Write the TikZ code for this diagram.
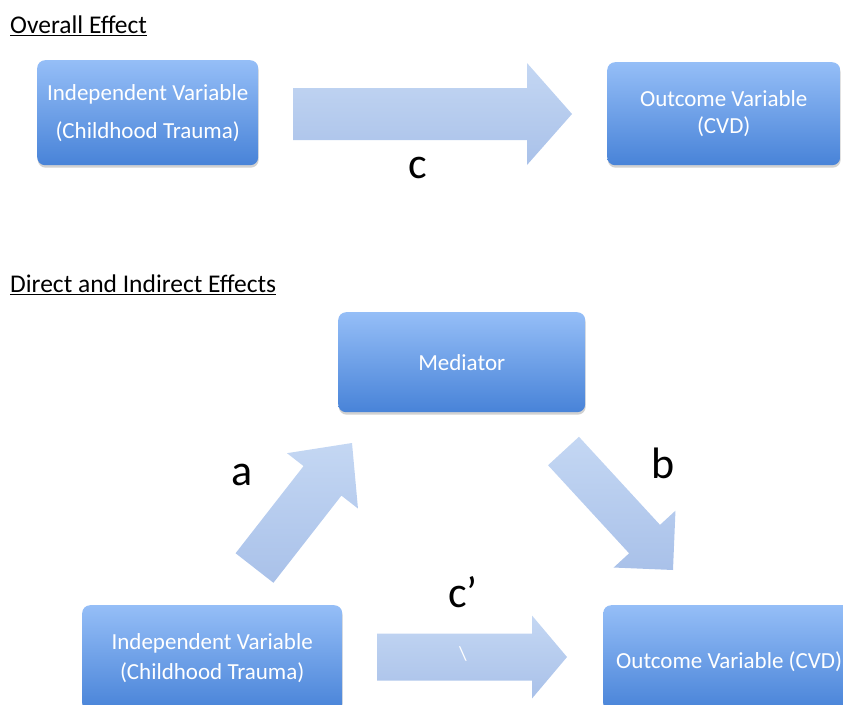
\documentclass[tikz,border=0pt]{standalone}
\usepackage{fontspec}
\setmainfont{Carlito}
\usetikzlibrary{calc,shadows}

\definecolor{boxtop}{HTML}{95BEF7}
\definecolor{boxbot}{HTML}{4883D8}
\definecolor{arrtop}{HTML}{C4D7F3}
\definecolor{arrbot}{HTML}{A9C1E9}

\tikzset{
  varbox/.style={rounded corners=8pt, top color=boxtop, bottom color=boxbot,
    draw=none, text=white, align=center, anchor=north west, inner sep=0pt,
    drop shadow={shadow xshift=0.5pt, shadow yshift=-2.5pt, opacity=0.3, fill=black!60}},
  boxfont/.style={font=\fontsize{23}{#1}\selectfont},
  heading/.style={anchor=base west, inner sep=0pt, font=\fontsize{25.5}{30}\selectfont},
  uline/.style={line width=1.3pt},
  pathlabel/.style={inner sep=0pt, font=\fontsize{44}{50}\selectfont},
  arrowbody/.style={top color=arrtop, bottom color=arrbot, draw=none},
}

% Block arrow from a tail coordinate to a tip coordinate:
% #1 tail, #2 tip, #3 shaft half-width, #4 head half-width, #5 head length
\newcommand\blockarrow[5]{%
  \path let \p1=(#1), \p2=(#2) in
    \pgfextra{%
      \pgfmathparse{atan2(\y2-\y1,\x2-\x1)}\xdef\baang{\pgfmathresult}%
      \pgfmathparse{veclen(\x2-\x1,\y2-\y1)}\xdef\balen{\pgfmathresult}%
    };
  \begin{scope}[shift={(#1)}, rotate=\baang, x=1pt, y=1pt]
    \shade[arrowbody] (0,-#3) -- (\balen-#5,-#3) -- (\balen-#5,-#4) -- (\balen,0)
      -- (\balen-#5,#4) -- (\balen-#5,#3) -- (0,#3) -- cycle;
  \end{scope}}

\begin{document}
\begin{tikzpicture}[x=1pt, y=-1pt]
  \clip (0,0) rectangle (843,704);

  % ---- Overall effect ----
  \node[heading] (h1) at (10,33) {Overall Effect};
  \draw[uline] ([yshift=-2.5pt]h1.base west) -- ([yshift=-2.5pt]h1.base east);

  \node[varbox, boxfont=38, minimum width=221pt, minimum height=105pt] (iv1) at (37,60)
    {Independent Variable\\(Childhood Trauma)};
  \node[varbox, boxfont=27, minimum width=233pt, minimum height=103pt] (dv1) at (607,62)
    {Outcome Variable\\(CVD)};

  \coordinate (cT) at (293,114);
  \coordinate (cH) at (572,114);
  \blockarrow{cT}{cH}{26}{51}{45}
  \node[pathlabel, anchor=base] (lc) at (418,178) {c};

  % ---- Direct and indirect effects ----
  \node[heading] (h2) at (10,292) {Direct and Indirect Effects};
  \draw[uline] ([yshift=-2.5pt]h2.base west) -- ([yshift=-2.5pt]h2.base east);

  \node[varbox, boxfont=28, minimum width=247pt, minimum height=100pt] (med) at (338,312)
    {Mediator};
  \node[varbox, boxfont=30, minimum width=260pt, minimum height=106pt] (iv2) at (82,605)
    {Independent Variable\\(Childhood Trauma)};
  \node[varbox, boxfont=30, minimum width=251pt, minimum height=106pt] (dv2) at (603,605) {};
  \node[boxfont=30, text=white, anchor=west, inner sep=0pt] (dv2t) at (616,662)
    {Outcome Variable (CVD)};

  \coordinate (aT) at (254.5,568);
  \coordinate (aH) at (352,443);
  \blockarrow{aT}{aH}{24}{45}{48}
  \node[pathlabel, anchor=base] (la) at (242,485) {a};

  \coordinate (bT) at (563.5,451);
  \coordinate (bH) at (673,570);
  \blockarrow{bT}{bH}{21}{42}{42}
  \node[pathlabel, anchor=base] (lb) at (663,478) {b};

  \coordinate (pT) at (377,657);
  \coordinate (pH) at (567,657);
  \blockarrow{pT}{pH}{23.5}{41.5}{35}
  \node[pathlabel, anchor=base west] (lcp) at (448,607) {c’};
  \node[text=white, inner sep=0pt, font=\fontsize{20}{24}\selectfont] (bs) at (463,654) {\textbackslash};
\end{tikzpicture}
\end{document}
